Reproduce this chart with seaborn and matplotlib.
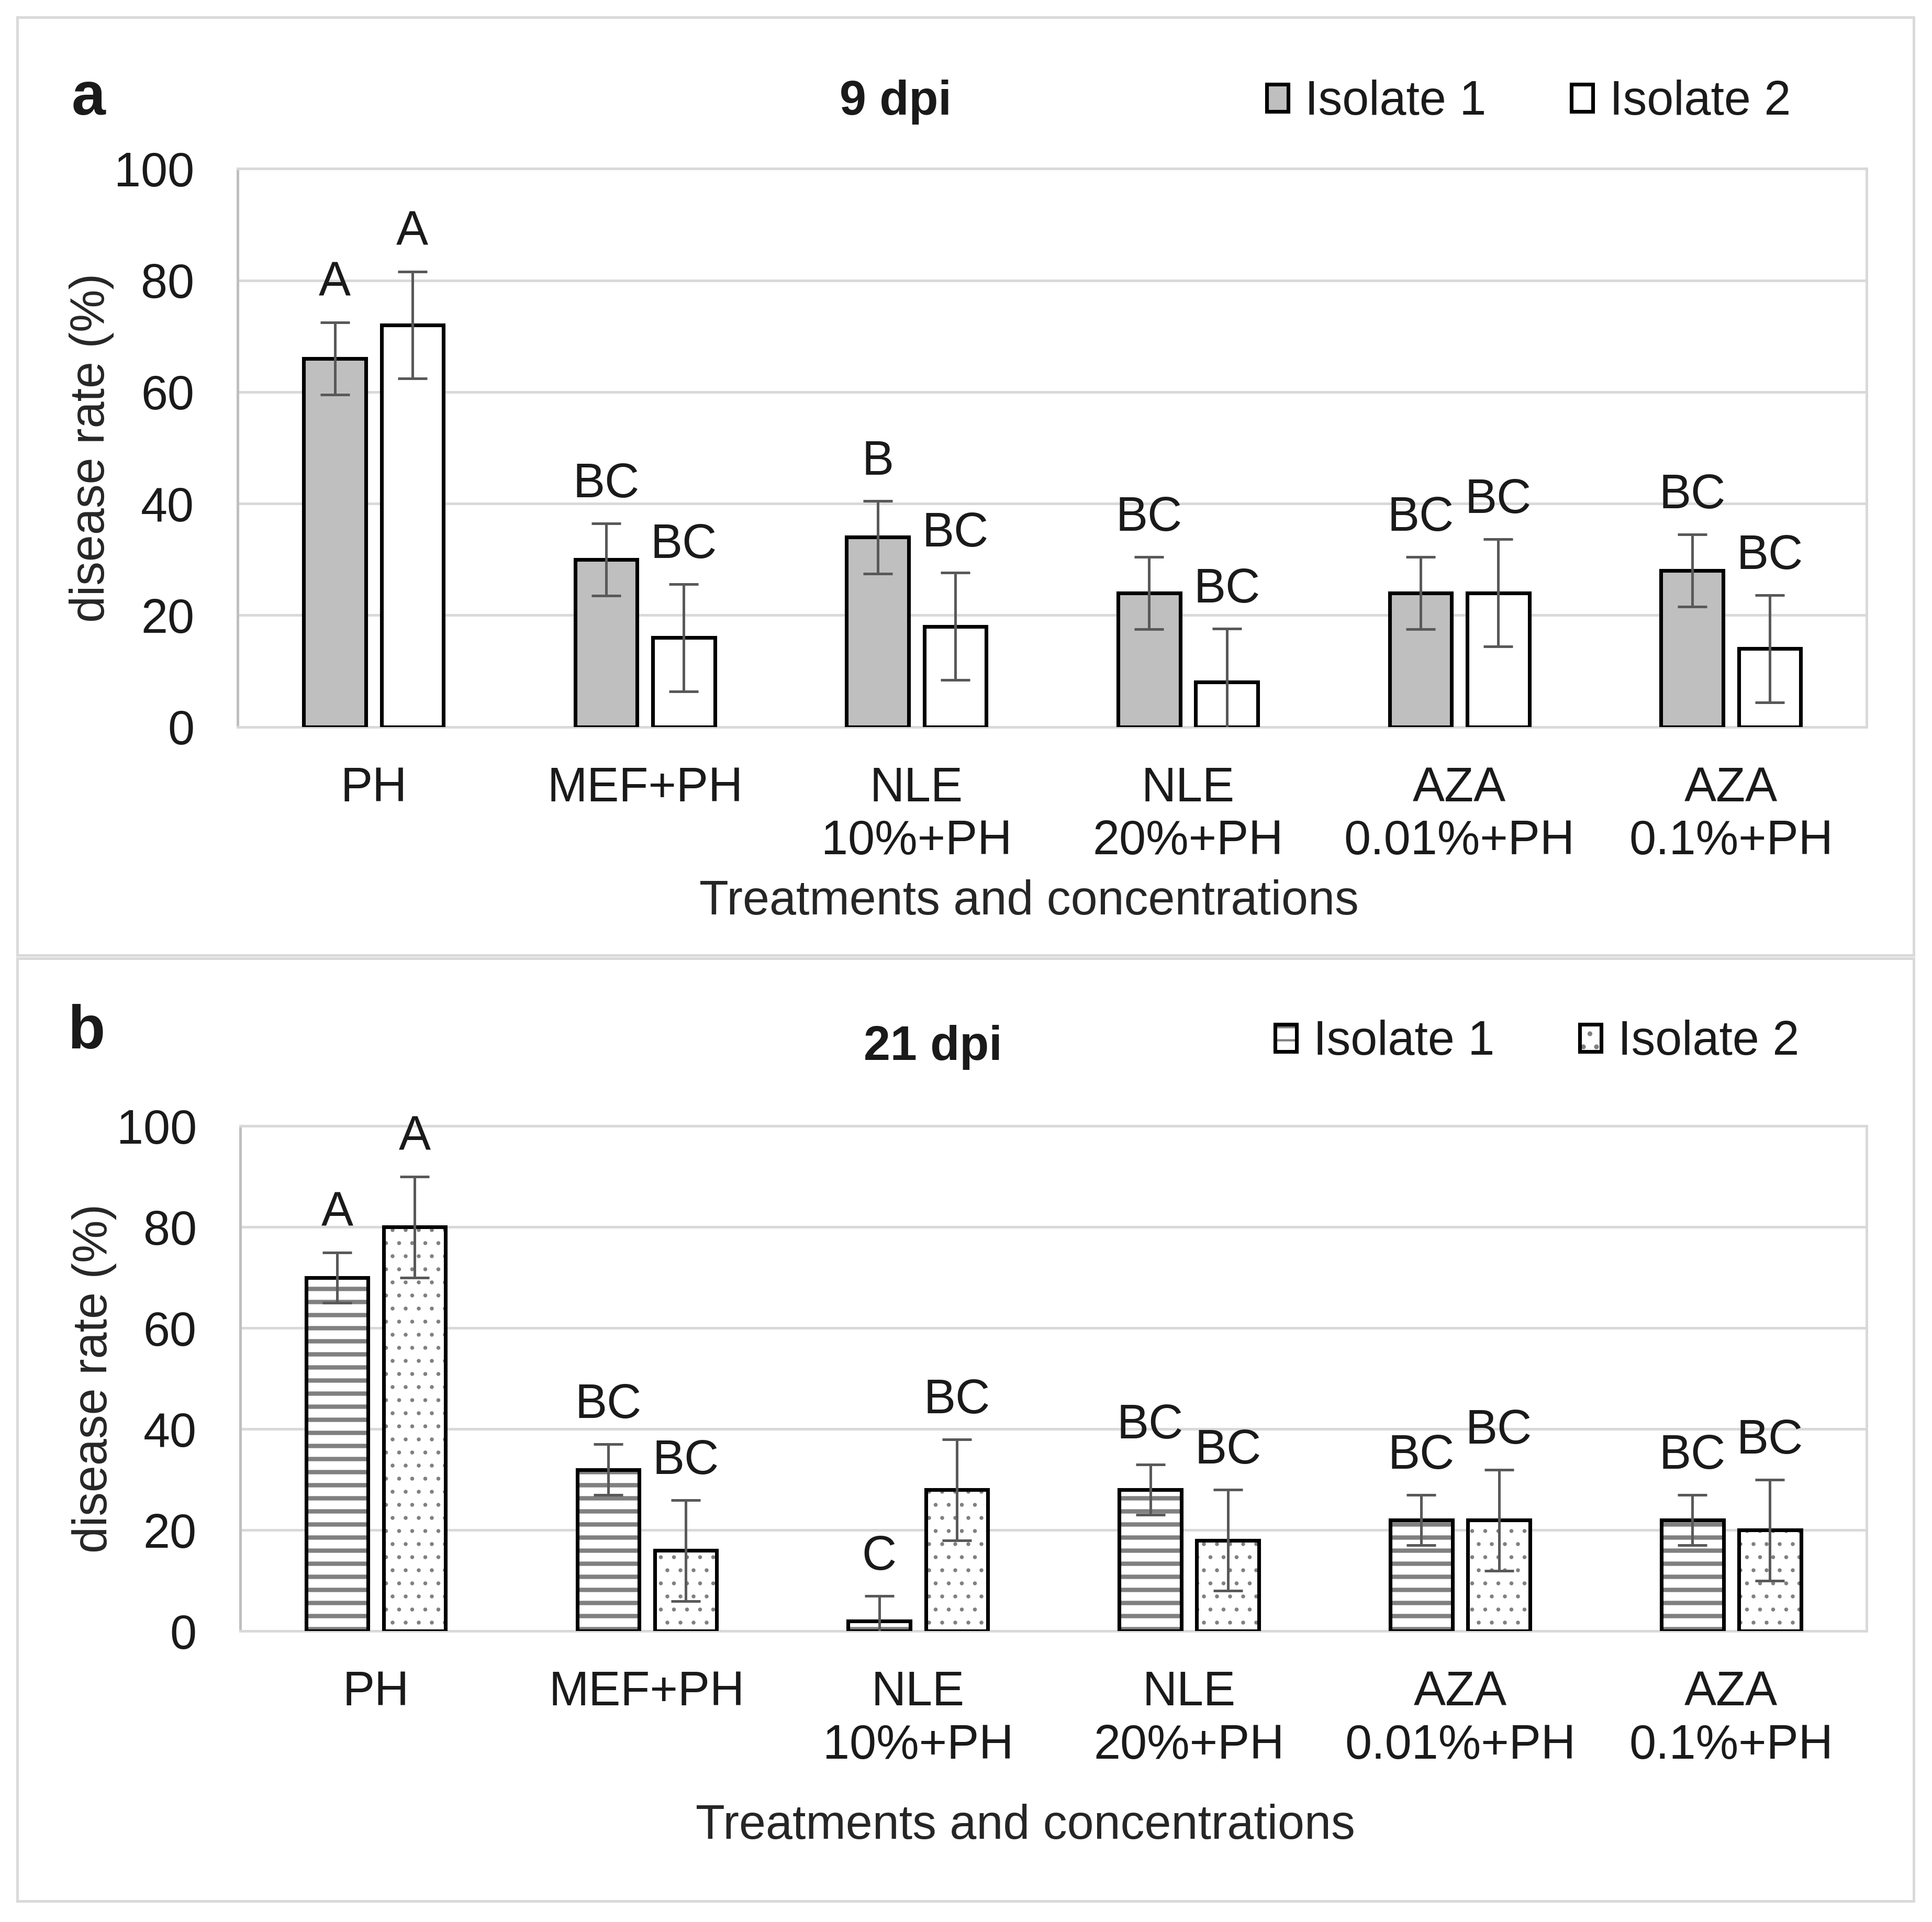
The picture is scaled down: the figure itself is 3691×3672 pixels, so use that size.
import matplotlib
matplotlib.use('Agg')
import matplotlib.pyplot as plt
from matplotlib.patches import Patch, Rectangle
import seaborn as sns
import pandas as pd

treatments = ['PH', 'MEF+PH', 'NLE\n10%+PH', 'NLE\n20%+PH', 'AZA\n0.01%+PH', 'AZA\n0.1%+PH']
isolates = ['Isolate 1', 'Isolate 2']

# 9 dpi
dpi9_iso1 = [66, 30, 34, 24, 24, 28]
dpi9_iso2 = [72, 16, 18, 8, 24, 14]
dpi9_err1 = [6.5, 6.5, 6.5, 6.5, 6.5, 6.5]
dpi9_err2 = [9.6, 9.6, 9.6, 9.6, 9.6, 9.6]
dpi9_let1 = ['A', 'BC', 'B', 'BC', 'BC', 'BC']
dpi9_let2 = ['A', 'BC', 'BC', 'BC', 'BC', 'BC']

# 21 dpi
dpi21_iso1 = [70, 32, 2, 28, 22, 22]
dpi21_iso2 = [80, 16, 28, 18, 22, 20]
dpi21_err1 = [5, 5, 5, 5, 5, 5]
dpi21_err2 = [10, 10, 10, 10, 10, 10]
dpi21_let1 = ['A', 'BC', 'C', 'BC', 'BC', 'BC']
dpi21_let2 = ['A', 'BC', 'BC', 'BC', 'BC', 'BC']

sns.set_theme(style='white')
plt.rcParams['font.family'] = ['Liberation Sans', 'DejaVu Sans']
plt.rcParams['text.color'] = '#1a1a1a'

FS = 22
GRID = '#D9D9D9'
HATCH = '#808080'
hatch_lw = {'--': 2.0, '..': 0.6}


def set_hlw(p, lw):
    if hasattr(p, 'set_hatch_linewidth'):
        p.set_hatch_linewidth(lw)


def draw_panel(ax, iso1, iso2, err1, err2, let1, let2, hatched):
    df = pd.DataFrame({
        'treatment': treatments * 2,
        'isolate': [isolates[0]] * len(treatments) + [isolates[1]] * len(treatments),
        'rate': iso1 + iso2,
    })
    if hatched:
        pal = {isolates[0]: 'white', isolates[1]: 'white'}
        ec, lw = HATCH, 0
    else:
        pal = {isolates[0]: '#BFBFBF', isolates[1]: 'white'}
        ec, lw = 'black', 1.7
    sns.barplot(data=df, x='treatment', y='rate', hue='isolate', hue_order=isolates,
                palette=pal, errorbar=None, width=0.572, gap=0.2, saturation=1,
                edgecolor=ec, linewidth=lw, legend=False, ax=ax, zorder=3)

    bars = sorted(ax.patches, key=lambda p: p.get_x())
    vals = [v for pair in zip(iso1, iso2) for v in pair]
    errs = [v for pair in zip(err1, err2) for v in pair]
    lets = [v for pair in zip(let1, let2) for v in pair]
    xs = [b.get_x() + b.get_width() / 2 for b in bars]

    if hatched:
        for i, b in enumerate(bars):
            h = '--' if i % 2 == 0 else '..'
            b.set_hatch(h)
            set_hlw(b, hatch_lw[h])
            ax.add_patch(Rectangle(b.get_xy(), b.get_width(), b.get_height(),
                                   fill=False, ec='black', lw=1.7, zorder=4))

    ax.errorbar(xs, vals, yerr=errs, fmt='none', ecolor='#595959',
                elinewidth=1.2, capsize=6.8, capthick=1.2, zorder=5)
    for x, v, e, t in zip(xs, vals, errs, lets):
        ax.annotate(t, (x, v + e), xytext=(0, 12), textcoords='offset points',
                    ha='center', va='baseline', fontsize=FS)

    ax.set_xlim(-0.5, len(treatments) - 0.5)
    ax.set_ylim(0, 100)
    ax.set_yticks(range(0, 101, 20))
    ax.yaxis.grid(True, color=GRID, lw=1.2)
    ax.set_axisbelow(True)
    for s in ax.spines.values():
        s.set_color(GRID)
        s.set_linewidth(1.2)
    ax.spines['left'].set_color('#BFBFBF')
    ax.tick_params(axis='both', length=0, labelsize=FS, labelcolor='#1a1a1a')
    ax.tick_params(axis='y', pad=20)
    ax.tick_params(axis='x', pad=18)
    for lab in ax.get_xticklabels():
        lab.set_linespacing(1.23)
    ax.set_ylabel('disease rate (%)', fontsize=FS, labelpad=0)


fig = plt.figure(figsize=(3691 / 300, 3672 / 300), dpi=300)

# panel frames
fig.add_artist(Rectangle((0.0089, 0.503), 0.9815, 0.488, transform=fig.transFigure,
                         fill=False, ec=GRID, lw=1.2))
fig.add_artist(Rectangle((0.0089, 0.0109), 0.9815, 0.4904, transform=fig.transFigure,
                         fill=False, ec=GRID, lw=1.2))

ax1 = fig.add_axes([0.1231, 0.6218, 0.8431, 0.2904])
draw_panel(ax1, dpi9_iso1, dpi9_iso2, dpi9_err1, dpi9_err2, dpi9_let1, dpi9_let2, False)
ax1.set_xlabel('Treatments and concentrations', fontsize=FS, labelpad=7)
ax1.xaxis.label.set_x(0.4856)

ax2 = fig.add_axes([0.1244, 0.1513, 0.8418, 0.2628])
draw_panel(ax2, dpi21_iso1, dpi21_iso2, dpi21_err1, dpi21_err2, dpi21_let1, dpi21_let2, True)
ax2.set_xlabel('Treatments and concentrations', fontsize=FS, labelpad=16)
ax2.xaxis.label.set_x(0.4826)

# titles and panel letters
fig.text(0.4636, 0.9468, '9 dpi', ha='center', va='center', fontsize=FS, fontweight='bold')
fig.text(0.4828, 0.4551, '21 dpi', ha='center', va='center', fontsize=FS, fontweight='bold')
fig.text(0.0459, 0.9487, 'a', ha='center', va='center', fontsize=28, fontweight='bold')
fig.text(0.0446, 0.4628, 'b', ha='center', va='center', fontsize=28, fontweight='bold')

# legends
leg_kw = dict(loc='center left', ncol=2, frameon=False, borderpad=0, borderaxespad=0,
              handlelength=0.45, handleheight=0.5, handletextpad=0.35,
              columnspacing=1.77, fontsize=FS)
h1 = [Patch(fc='#BFBFBF', ec='black', lw=1.7), Patch(fc='white', ec='black', lw=1.7)]
fig.legend(h1, isolates, bbox_to_anchor=(0.6556, 0.9468), **leg_kw)

h2 = []
for h in ['--', '..']:
    hp = Patch(fc='white', ec=HATCH, lw=0, hatch=h)
    set_hlw(hp, hatch_lw[h])
    h2.append((hp, Patch(fill=False, ec='black', lw=1.7)))
fig.legend(h2, isolates, bbox_to_anchor=(0.660, 0.4577), **leg_kw)

fig.savefig('out.png', dpi=300)
